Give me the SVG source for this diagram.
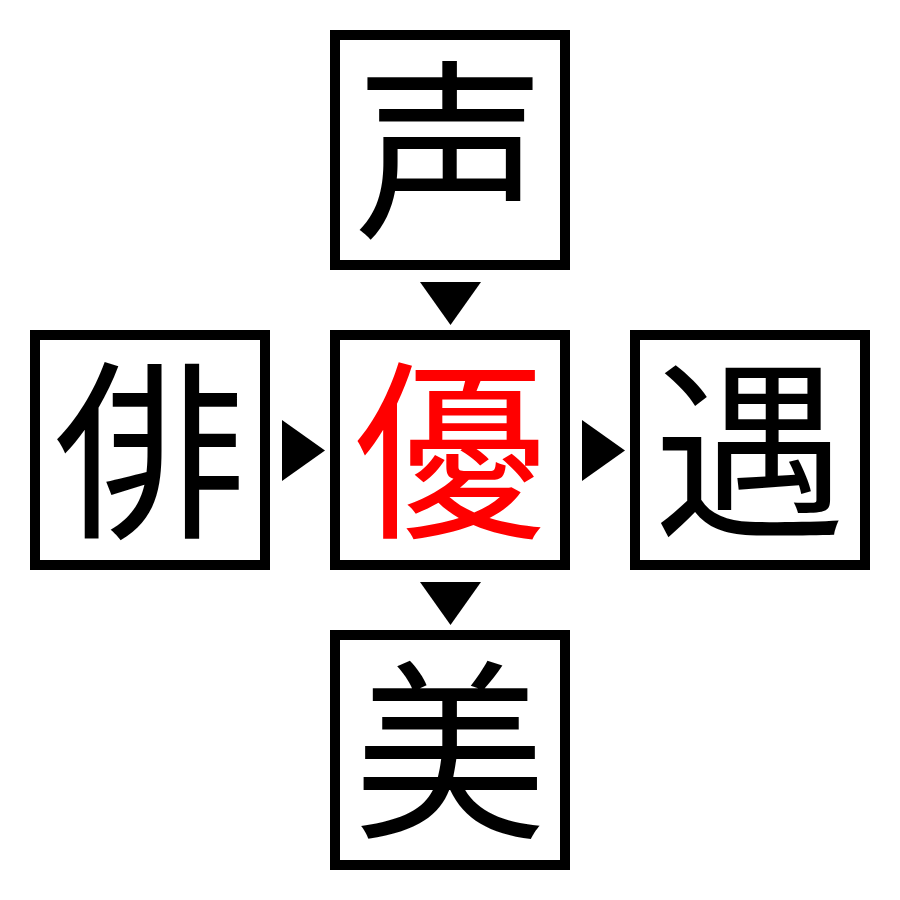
<svg xmlns="http://www.w3.org/2000/svg" width="900" height="900" viewBox="0 0 900 900">
<style>
.box{fill:#fff;stroke:#000;stroke-width:10}
.ch{font-family:"Noto Sans CJK JP","Noto Sans CJK SC",sans-serif;font-size:192px;text-anchor:middle;fill:#000}
.red{fill:#ff0000}
.arr{fill:#000}
</style>
<rect width="900" height="900" fill="#fff"/>
<g id="node-top"><rect class="box" x="335" y="35" width="230" height="230"/><text class="ch" x="450" y="223">声</text></g>
<g id="node-left"><rect class="box" x="35" y="335" width="230" height="230"/><text class="ch" x="150" y="523">俳</text></g>
<g id="node-center"><rect class="box" x="335" y="335" width="230" height="230"/><text class="ch red" x="450" y="523">優</text></g>
<g id="node-right"><rect class="box" x="635" y="335" width="230" height="230"/><text class="ch" x="750" y="523">遇</text></g>
<g id="node-bottom"><rect class="box" x="335" y="635" width="230" height="230"/><text class="ch" x="450" y="823">美</text></g>
<g id="connectors">
<polygon class="arr" points="420,282 481,282 450.5,325"/>
<polygon class="arr" points="282,420 282,481 325,450.5"/>
<polygon class="arr" points="582,420 582,481 625,450.5"/>
<polygon class="arr" points="420,582 481,582 450.5,625"/>
</g>
</svg>
